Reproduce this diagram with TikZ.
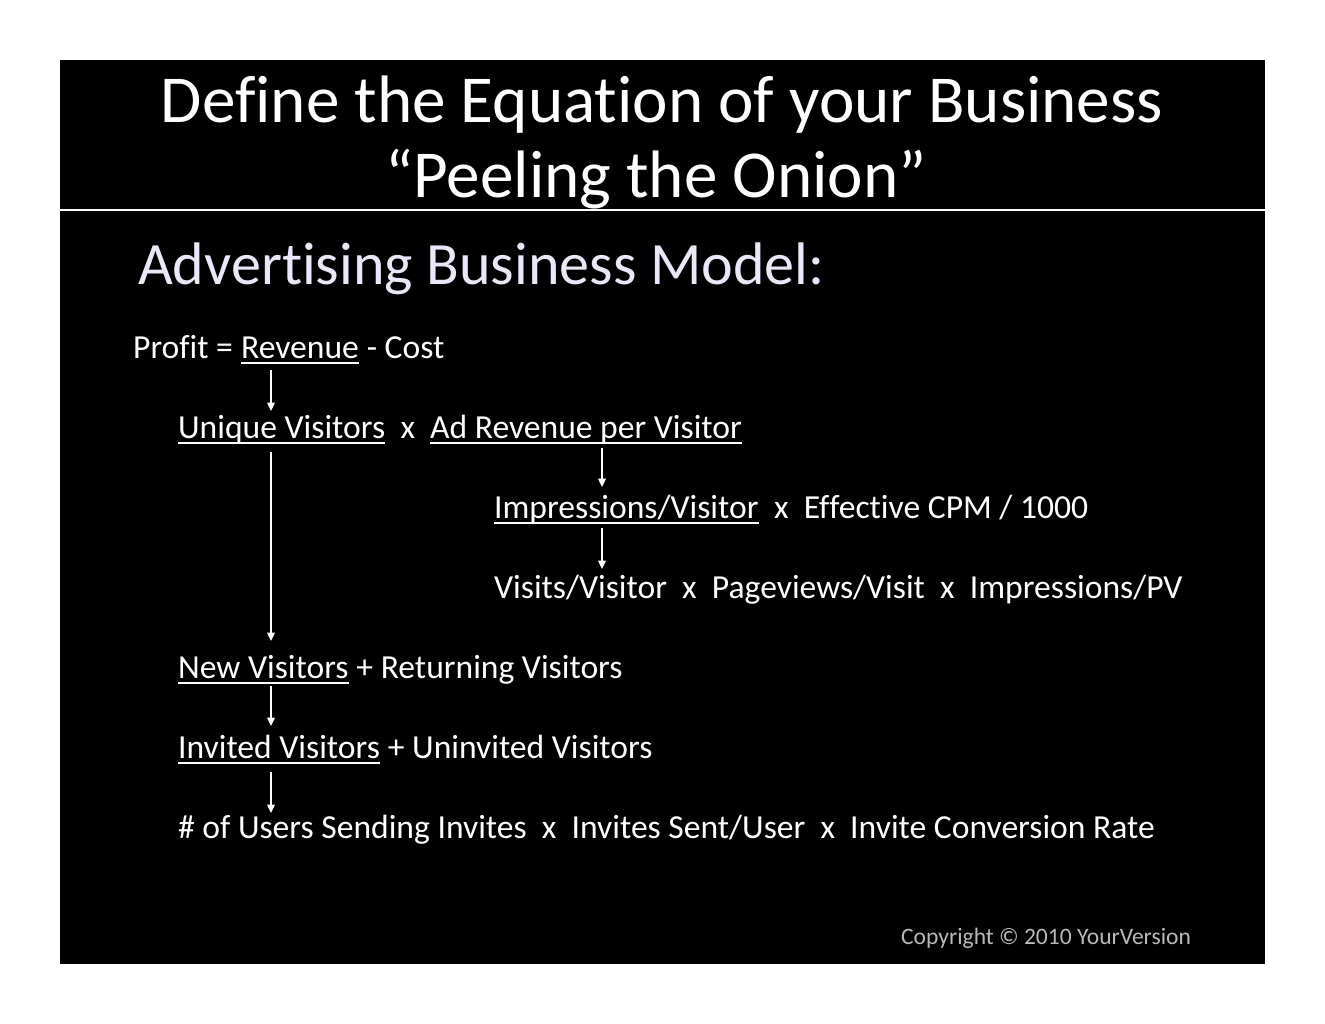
\documentclass[tikz,border=0pt]{standalone}
\usepackage{fontspec}
\setmainfont{Carlito}[RawFeature={-liga;-clig;-dlig;-calt;-rlig}]
\usetikzlibrary{arrows.meta,calc}
\definecolor{subtitle}{RGB}{232,232,250}
\definecolor{copygray}{RGB}{185,185,185}
\tikzset{
  headline/.style={inner sep=0pt, anchor=base, text=white, font=\fontsize{95.5}{100}\selectfont},
  txt/.style={inner sep=0pt, anchor=base west, text=white, font=\fontsize{47.8}{52}\selectfont},
  flow/.style={draw=white, line width=2pt, -{Triangle[length=12pt,width=11pt]}},
  uline/.style={draw=white, line width=2.4pt},
}
\newcommand{\under}[1]{\draw[uline] ($(#1.base west)+(0,5)$) -- ($(#1.base east)+(0,5)$);}

\begin{document}
\begin{tikzpicture}[x=0.5mm,y=-0.5mm]
	%%%%% FRAME %%%%%
	\fill[white] (0,0) rectangle (1325,1024);
	\useasboundingbox (0,0) rectangle (1325,1024);
	\fill[black] (60,60) rectangle (1265,964);
	\draw[white, line width=2.4pt] (60,210) -- (1265,210);
	
	%%%%% TITLES %%%%%
	\node[headline] (head1) at (662,123) {Def\kern0pt ine the Equation of your Business};
	\node[headline] (head2) at (656,197) {“Peeling the Onion”};
	\node[inner sep=0pt, anchor=base west, text=subtitle, font=\fontsize{85.5}{90}\selectfont] (model) at (138,284) {Advert\kern0pt ising Business Model:};
	
	%%%%% EQUATIONS %%%%%
	\node[txt] (profit) at (133,358) {Prof\kern0pt it =};
	\node[txt] (rev) at (241,358) {Revenue};
	\node[txt] (cost) at (rev.base east) {\ - Cost};
	
	\node[txt] (uv) at (178,438) {Unique Visitors};
	\node[txt] (times1) at (uv.base east) {\ \ x};
	\node[txt] (adrev) at (430,438) {Ad Revenue per Visitor};
	
	\node[txt] (imp) at (494,518) {Impressions/Visitor};
	\node[txt] (cpm) at (imp.base east) {\ \ x\ \ Ef\kern0pt fect\kern0pt ive CPM / 1000};
	
	\node[txt] (visits) at (494,598) {Visits/Visitor\ \ x\ \ Pageviews/Visit\ \ x\ \ Impressions/PV};
	
	\node[txt] (nv) at (178,678) {New Visitors};
	\node[txt] (retv) at (nv.base east) {\ + Returning Visitors};
	
	\node[txt] (inv) at (178,758) {Invited Visitors};
	\node[txt] (uninv) at (inv.base east) {\ + Uninvited Visitors};
	
	\node[txt] (users) at (178,838) {\# of Users Sending Invites\ \ x\ \ Invites Sent/User\ \ x\ \ Invite Conversion Rate};
	
	\under{rev}
	\under{uv}
	\under{adrev}
	\under{imp}
	\under{nv}
	\under{inv}
	
	%%%%% ARROWS %%%%%
	\coordinate (lcol) at (271,0);
	\coordinate (rcol) at (602,0);
	\draw[flow] ($(rev.base -| lcol)+(0,12)$) -- ($(uv.base -| lcol)+(0,-27)$);
	\draw[flow] ($(uv.base -| lcol)+(0,14)$) -- ($(nv.base -| lcol)+(0,-37)$);
	\draw[flow] ($(adrev.base -| rcol)+(0,10)$) -- ($(imp.base -| rcol)+(0,-31)$);
	\draw[flow] ($(imp.base -| rcol)+(0,10)$) -- ($(visits.base -| rcol)+(0,-29)$);
	\draw[flow] ($(nv.base -| lcol)+(0,8)$) -- ($(inv.base -| lcol)+(0,-32)$);
	\draw[flow] ($(inv.base -| lcol)+(0,14)$) -- ($(users.base -| lcol)+(0,-25)$);
	
	\node[inner sep=0pt, anchor=base west, text=copygray, font=\fontsize{33.5}{38}\selectfont] (copy) at (901,944) {Copyright © 2010 YourVersion};
\end{tikzpicture}
\end{document}
